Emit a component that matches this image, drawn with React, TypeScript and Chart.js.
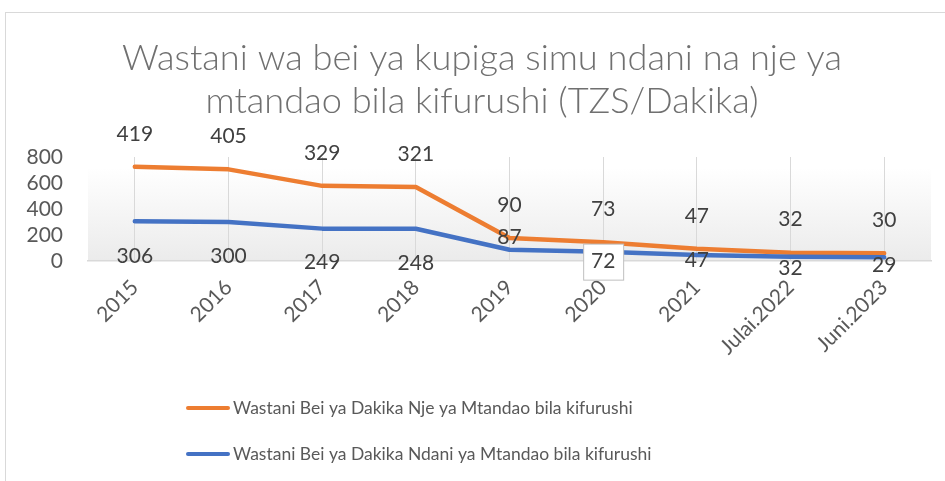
import React, { useEffect, useRef } from "react";
import { Chart, registerables } from "chart.js";

Chart.register(...registerables);

const categories = ["2015", "2016", "2017", "2018", "2019", "2020", "2021", "Julai.2022", "Juni.2023"];
const ndaniValues = [306, 300, 249, 248, 87, 72, 47, 32, 29];
const njeValues = [419, 405, 329, 321, 90, 73, 47, 32, 30];
const yTicks = [0, 200, 400, 600, 800];
const titleLines = [
  "Wastani wa bei ya kupiga simu ndani na nje ya",
  "mtandao bila kifurushi (TZS/Dakika)",
];
const njeName = "Wastani Bei ya Dakika Nje ya Mtandao bila kifurushi";
const ndaniName = "Wastani Bei ya Dakika Ndani ya Mtandao bila kifurushi";

const FONT = "Lato, 'Open Sans', sans-serif";
const ORANGE = "#ED7D31";
const BLUE = "#4472C4";
const LABEL_COLOR = "#404040";
const njeLabelDy = -33;
const ndaniLabelDy = [35, 34, 34, 34, -12, 10, 5, 11, 8];
const boxedIndex = 5;

const deco = {
  id: "deco",
  beforeDraw(chart: any) {
    const { ctx, chartArea: a } = chart;
    ctx.save();
    const g = ctx.createLinearGradient(0, a.top + 10, 0, a.bottom);
    g.addColorStop(0, "#ffffff");
    g.addColorStop(1, "#ebebeb");
    ctx.fillStyle = g;
    ctx.fillRect(a.left, a.top + 12, a.right - a.left, a.bottom - a.top - 12);
    ctx.fillStyle = "#707070";
    ctx.font = `300 36.2px ${FONT}`;
    ctx.textAlign = "center";
    ctx.textBaseline = "middle";
    titleLines.forEach((t, i) => ctx.fillText(t, 482, 58 + i * 43));
    ctx.restore();
  },
  afterDatasetsDraw(chart: any) {
    const { ctx } = chart;
    ctx.save();
    ctx.font = `21px ${FONT}`;
    ctx.textAlign = "center";
    ctx.textBaseline = "middle";
    const ndaniMeta = chart.getDatasetMeta(0);
    const njeMeta = chart.getDatasetMeta(1);
    njeMeta.data.forEach((pt: any, i: number) => {
      ctx.fillStyle = LABEL_COLOR;
      ctx.fillText(String(njeValues[i]), pt.x, pt.y + njeLabelDy);
    });
    ndaniMeta.data.forEach((pt: any, i: number) => {
      const y = pt.y + ndaniLabelDy[i];
      if (i === boxedIndex) {
        ctx.fillStyle = "#ffffff";
        ctx.fillRect(pt.x - 19.5, y - 17.5, 40, 36);
        ctx.strokeStyle = "#bfbfbf";
        ctx.lineWidth = 1;
        ctx.strokeRect(pt.x - 19.5, y - 17.5, 40, 36);
      }
      ctx.fillStyle = LABEL_COLOR;
      ctx.fillText(String(ndaniValues[i]), pt.x, y);
    });
    // legend
    const items = [
      { name: njeName, color: ORANGE, y: 408 },
      { name: ndaniName, color: BLUE, y: 454 },
    ];
    ctx.font = `17.5px ${FONT}`;
    ctx.textAlign = "left";
    items.forEach((it) => {
      ctx.strokeStyle = it.color;
      ctx.lineWidth = 4;
      ctx.lineCap = "round";
      ctx.beginPath();
      ctx.moveTo(188, it.y);
      ctx.lineTo(228, it.y);
      ctx.stroke();
      ctx.fillStyle = "#595959";
      ctx.fillText(it.name, 233, it.y);
    });
    ctx.restore();
  },
};

export default function App() {
  const ref = useRef<HTMLCanvasElement>(null);
  useEffect(() => {
    if (!ref.current) return;
    const chart = new Chart(ref.current, {
      type: "line",
      data: {
        labels: categories,
        datasets: [
          {
            label: ndaniName,
            data: ndaniValues,
            borderColor: BLUE,
            backgroundColor: BLUE,
            borderWidth: 4.5,
            pointRadius: 0,
            fill: false,
            tension: 0,
            borderCapStyle: "round",
            borderJoinStyle: "round",
          },
          {
            label: njeName,
            data: njeValues,
            borderColor: ORANGE,
            backgroundColor: ORANGE,
            borderWidth: 4.5,
            pointRadius: 0,
            fill: false,
            tension: 0,
            borderCapStyle: "round",
            borderJoinStyle: "round",
          },
        ],
      },
      options: {
        animation: false,
        responsive: false,
        maintainAspectRatio: false,
        layout: { padding: { left: 20, top: 157, right: 14, bottom: 100 } },
        plugins: {
          legend: { display: false },
          title: { display: false },
          tooltip: { enabled: false },
        },
        scales: {
          x: {
            offset: true,
            grid: { display: true, offset: false, color: "#d9d9d9", lineWidth: 1, drawTicks: false },
            border: { display: true, color: "#d9d9d9", width: 1.5 },
            ticks: {
              autoSkip: false,
              minRotation: 45,
              maxRotation: 45,
              padding: 14,
              color: "#595959",
              font: { family: FONT, size: 21 },
            },
            afterFit: (s: any) => {
              s.height = 120;
            },
          },
          y: {
            stacked: true,
            min: 0,
            max: 800,
            grid: { display: false, drawTicks: false },
            border: { display: false },
            afterBuildTicks: (s: any) => {
              s.ticks = yTicks.map((v) => ({ value: v }));
            },
            ticks: {
              autoSkip: false,
              padding: 25,
              color: "#595959",
              font: { family: FONT, size: 21 },
            },
            afterFit: (s: any) => {
              s.width = 68;
            },
          },
        },
      },
      plugins: [deco],
    } as any);
    return () => chart.destroy();
  }, []);
  return (
    <div style={{ position: "fixed", left: 0, top: 0, width: 945, height: 481, background: "#fff", overflow: "hidden" }}>
      <div
        style={{
          position: "absolute",
          left: 5,
          top: 12,
          width: 980,
          height: 520,
          borderTop: "1px solid #d9d9d9",
          borderLeft: "1px solid #d9d9d9",
        }}
      />
      <canvas ref={ref} width={945} height={481} style={{ position: "absolute", left: 0, top: 0 }} />
    </div>
  );
}
